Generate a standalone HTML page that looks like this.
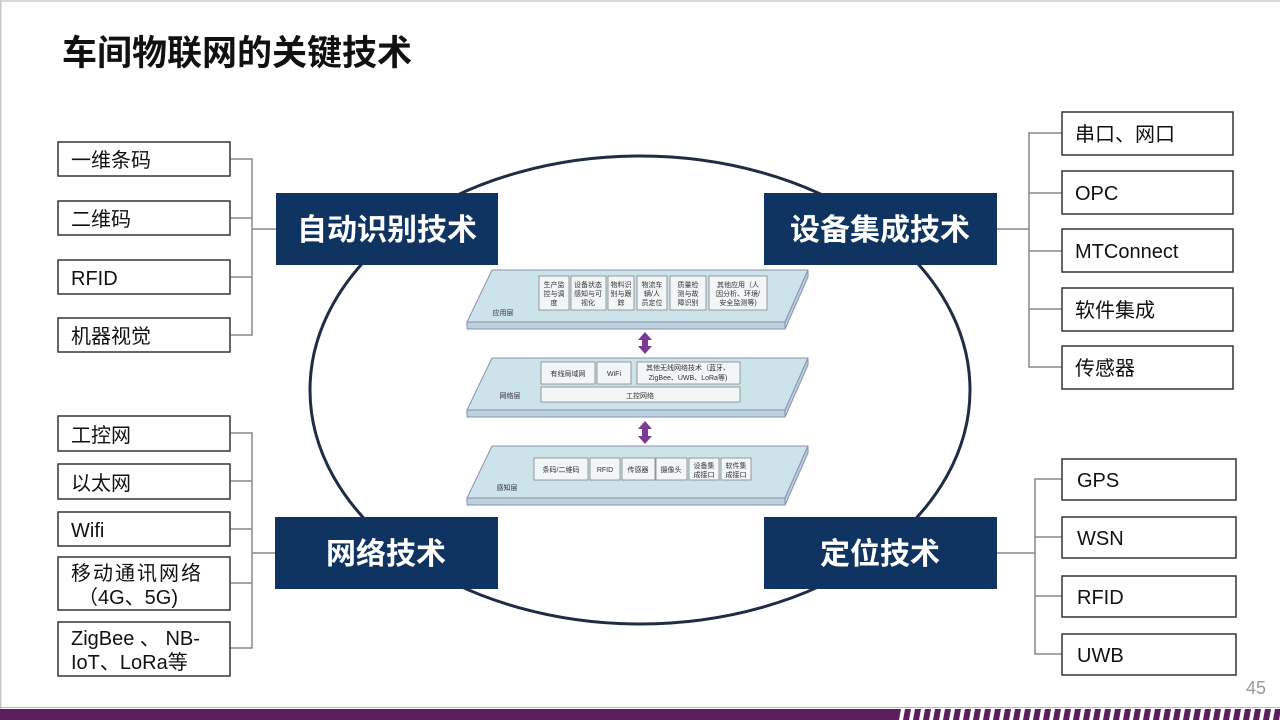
<!DOCTYPE html>
<html><head><meta charset="utf-8"><style>
body{margin:0;width:1280px;height:720px;overflow:hidden;background:#fff;font-family:"Liberation Sans","Noto Sans CJK SC",sans-serif;}
svg{position:absolute;left:0;top:0}
</style></head><body>
<svg width="1280" height="720" viewBox="0 0 1280 720" font-family="Liberation Sans, Noto Sans CJK SC, sans-serif">
<rect x="0" y="0" width="1280" height="2" fill="#d8d8d8"/>
<rect x="0" y="0" width="1.5" height="710" fill="#c8c8c8"/>
<text x="62" y="65" font-size="35" font-weight="bold" fill="#111">车间物联网的关键技术</text>

<!-- ellipse -->
<ellipse cx="640" cy="390" rx="330" ry="234" fill="none" stroke="#1e2c44" stroke-width="3"/>

<!-- connectors -->
<g stroke="#888" stroke-width="1.5" fill="none">
<path d="M230 159H252V335H230M230 218H252M230 277H252M252 229H276"/>
<path d="M230 433H252V648H230M230 481H252M230 529H252M230 583H252M252 553H276"/>
<path d="M1062 133H1029V367H1062M1062 193H1029M1062 251H1029M1062 309H1029M996 229H1029"/>
<path d="M1062 479H1035V654H1062M1062 537H1035M1062 596H1035M996 553H1035"/>
</g>

<!-- small boxes -->
<g fill="#fff" stroke="#333" stroke-width="1.5">
<rect x="58" y="142" width="172" height="34"/>
<rect x="58" y="201" width="172" height="34"/>
<rect x="58" y="260" width="172" height="34"/>
<rect x="58" y="318" width="172" height="34"/>
<rect x="58" y="416" width="172" height="35"/>
<rect x="58" y="464" width="172" height="35"/>
<rect x="58" y="512" width="172" height="34"/>
<rect x="58" y="557" width="172" height="53"/>
<rect x="58" y="622" width="172" height="54"/>
<rect x="1062" y="112" width="171" height="43"/>
<rect x="1062" y="171" width="171" height="43"/>
<rect x="1062" y="229" width="171" height="43"/>
<rect x="1062" y="288" width="171" height="43"/>
<rect x="1062" y="346" width="171" height="43"/>
<rect x="1062" y="459" width="174" height="41"/>
<rect x="1062" y="517" width="174" height="41"/>
<rect x="1062" y="576" width="174" height="41"/>
<rect x="1062" y="634" width="174" height="41"/>
</g>
<g font-size="20" fill="#111">
<text x="71" y="167">一维条码</text>
<text x="71" y="226">二维码</text>
<text x="71" y="285">RFID</text>
<text x="71" y="343">机器视觉</text>
<text x="71" y="442">工控网</text>
<text x="71" y="490">以太网</text>
<text x="71" y="537">Wifi</text>
<text x="71" y="580" letter-spacing="2">移动通讯网络</text>
<text x="78" y="604">（4G、5G)</text>
<text x="71" y="645">ZigBee 、 NB-</text>
<text x="71" y="669">IoT、LoRa等</text>
<text x="1075" y="141">串口、网口</text>
<text x="1075" y="200">OPC</text>
<text x="1075" y="258">MTConnect</text>
<text x="1075" y="317">软件集成</text>
<text x="1075" y="375">传感器</text>
<text x="1077" y="487">GPS</text>
<text x="1077" y="545">WSN</text>
<text x="1077" y="604">RFID</text>
<text x="1077" y="662">UWB</text>
</g>

<!-- dark boxes -->
<g fill="#0f3461">
<rect x="276" y="193" width="222" height="72"/>
<rect x="764" y="193" width="233" height="72"/>
<rect x="275" y="517" width="223" height="72"/>
<rect x="764" y="517" width="233" height="72"/>
</g>
<g font-size="30" font-weight="bold" fill="#fff" text-anchor="middle">
<text x="387" y="240">自动识别技术</text>
<text x="880" y="240">设备集成技术</text>
<text x="386" y="564">网络技术</text>
<text x="880" y="564">定位技术</text>
</g>

<!-- layers -->
<g stroke="#8a8fb0" stroke-width="1">
<path d="M492 270H808L785 322H467Z" fill="#cde3ea"/>
<path d="M467 322H785V329H467Z M785 322L808 270V277L785 329Z" fill="#b9d2e0"/>
<path d="M492 358H808L785 410H467Z" fill="#cde3ea"/>
<path d="M467 410H785V417H467Z M785 410L808 358V365L785 417Z" fill="#b9d2e0"/>
<path d="M492 446H808L785 498H467Z" fill="#cde3ea"/>
<path d="M467 498H785V505H467Z M785 498L808 446V453L785 505Z" fill="#b9d2e0"/>
</g>
<g fill="#f2f6f7" stroke="#777" stroke-width="0.7">
<rect x="539" y="276" width="30" height="34"/><rect x="571" y="276" width="35" height="34"/><rect x="608" y="276" width="26" height="34"/><rect x="637" y="276" width="30" height="34"/><rect x="670" y="276" width="36" height="34"/><rect x="709" y="276" width="58" height="34"/>
<rect x="541" y="362" width="54" height="22"/><rect x="597" y="362" width="34" height="22"/><rect x="637" y="362" width="103" height="22"/><rect x="541" y="387" width="199" height="15"/>
<rect x="534" y="458" width="54" height="22"/><rect x="590" y="458" width="30" height="22"/><rect x="622" y="458" width="33" height="22"/><rect x="656" y="458" width="31" height="22"/><rect x="689" y="458" width="30" height="22"/><rect x="721" y="458" width="30" height="22"/>
</g>
<g font-size="7" fill="#333" text-anchor="middle">
<text x="554" y="287">生产监</text><text x="554" y="296">控与调</text><text x="554" y="305">度</text>
<text x="588" y="287">设备状态</text><text x="588" y="296">感知与可</text><text x="588" y="305">视化</text>
<text x="621" y="287">物料识</text><text x="621" y="296">别与跟</text><text x="621" y="305">踪</text>
<text x="652" y="287">物流车</text><text x="652" y="296">辆/人</text><text x="652" y="305">员定位</text>
<text x="688" y="287">质量检</text><text x="688" y="296">测与故</text><text x="688" y="305">障识别</text>
<text x="738" y="287">其他应用（人</text><text x="738" y="296">因分析、环境/</text><text x="738" y="305">安全监测等)</text>
<text x="503" y="315">应用层</text>
<text x="568" y="376">有线局域网</text><text x="614" y="376">WiFi</text>
<text x="688" y="370">其他无线网络技术（蓝牙、</text><text x="688" y="380">ZigBee、UWB、LoRa等)</text>
<text x="640" y="398">工控网络</text><text x="510" y="398">网络层</text>
<text x="561" y="472">条码/二维码</text><text x="605" y="472">RFID</text><text x="638" y="472">传感器</text><text x="671" y="472">摄像头</text>
<text x="704" y="468">设备集</text><text x="704" y="477">成接口</text><text x="736" y="468">软件集</text><text x="736" y="477">成接口</text>
<text x="507" y="490">感知层</text>
</g>
<!-- arrows -->
<g fill="#7b3a96">
<path d="M645 332L652 340H648V346H652L645 354L638 346H642V340H638Z"/>
<path d="M645 421L652 429H648V436H652L645 444L638 436H642V429H638Z"/>
</g>

<text x="1266" y="694" font-size="18" fill="#999" text-anchor="end">45</text>
<rect x="0" y="707" width="1280" height="1" fill="#c9a8c8"/>
<rect x="0" y="709" width="895" height="11" fill="#5e1e5e"/>
<g fill="#5e1e5e">
<path d="M895 709h6l-2 11h-6z M905 709h6l-2 11h-6z M915 709h6l-2 11h-6z M925 709h6l-2 11h-6z M935 709h6l-2 11h-6z M945 709h6l-2 11h-6z M955 709h6l-2 11h-6z M965 709h6l-2 11h-6z M975 709h6l-2 11h-6z M985 709h6l-2 11h-6z M995 709h6l-2 11h-6z M1005 709h6l-2 11h-6z M1015 709h6l-2 11h-6z M1025 709h6l-2 11h-6z M1035 709h6l-2 11h-6z M1045 709h6l-2 11h-6z M1055 709h6l-2 11h-6z M1065 709h6l-2 11h-6z M1075 709h6l-2 11h-6z M1085 709h6l-2 11h-6z M1095 709h6l-2 11h-6z M1105 709h6l-2 11h-6z M1115 709h6l-2 11h-6z M1125 709h6l-2 11h-6z M1135 709h6l-2 11h-6z M1145 709h6l-2 11h-6z M1155 709h6l-2 11h-6z M1165 709h6l-2 11h-6z M1175 709h6l-2 11h-6z M1185 709h6l-2 11h-6z M1195 709h6l-2 11h-6z M1205 709h6l-2 11h-6z M1215 709h6l-2 11h-6z M1225 709h6l-2 11h-6z M1235 709h6l-2 11h-6z M1245 709h6l-2 11h-6z M1255 709h6l-2 11h-6z M1265 709h6l-2 11h-6z M1275 709h6l-2 11h-6z"/>
</g>
</svg>
</body></html>
